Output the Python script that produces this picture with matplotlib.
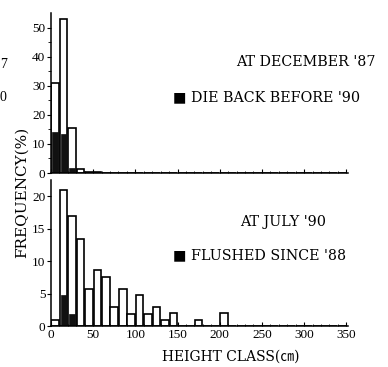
import matplotlib
matplotlib.use('Agg')
import matplotlib.pyplot as plt
import numpy as np

# height classes (cm), 10 cm wide, left edges
classes = np.arange(0, 350, 10)

# December '87: all plants and those that died back before '90 (%)
dec87_all = [31, 53, 15.5, 1.5, 0.5, 0.3, 0, 0, 0, 0, 0, 0, 0, 0, 0, 0, 0, 0,
             0, 0, 0, 0, 0, 0, 0, 0, 0, 0, 0, 0, 0, 0, 0, 0, 0]
dec87_dieback = [14, 13.4, 1.8, 0, 0, 0, 0, 0, 0, 0, 0, 0, 0, 0, 0, 0, 0, 0,
                 0, 0, 0, 0, 0, 0, 0, 0, 0, 0, 0, 0, 0, 0, 0, 0, 0]

# July '90: all plants and those flushed since '88 (%)
jul90_all = [0.9, 21, 17, 13.4, 5.7, 8.6, 7.6, 2.9, 5.7, 1.9, 4.7, 1.9, 2.9, 0.9,
             2.0, 0, 0, 0.9, 0, 0, 2.0, 0, 0, 0, 0, 0, 0, 0, 0, 0, 0, 0, 0, 0, 0]
jul90_flushed = [0, 4.7, 1.9, 0, 0, 0, 0, 0, 0, 0, 0, 0, 0, 0, 0, 0, 0, 0,
                 0, 0, 0, 0, 0, 0, 0, 0, 0, 0, 0, 0, 0, 0, 0, 0, 0]

plt.rcParams['font.family'] = ['Liberation Serif', 'DejaVu Serif']
serif = ['DejaVu Serif', 'DejaVu Sans']

fig = plt.figure(figsize=(3.88, 3.67), dpi=100)
ax1 = fig.add_axes([0.1314, 0.5286, 0.7655, 0.436])
ax2 = fig.add_axes([0.1314, 0.1117, 0.7655, 0.398])


def draw(ax, allv, sub, ymax, ystep, yminor):
    ax.bar(classes + 0.5, allv, width=9, align='edge', color='white',
           edgecolor='black', linewidth=1.2)
    ax.bar(classes + 1.5, sub, width=7, align='edge', color='#111111',
           edgecolor='#111111', linewidth=0.5)
    ax.set_xlim(0, 352)
    ax.set_ylim(0, ymax)
    ax.spines['top'].set_visible(False)
    ax.spines['right'].set_visible(False)
    ax.spines['left'].set_linewidth(1.1)
    ax.spines['bottom'].set_linewidth(1.1)
    ax.set_yticks(np.arange(0, ymax, ystep))
    ax.set_yticks(np.arange(0, ymax, yminor), minor=True)
    ax.set_xticks(np.arange(0, 351, 50))
    ax.set_xticks(np.arange(0, 351, 10), minor=True)
    ax.tick_params(axis='y', which='major', direction='out', length=3,
                   width=0.8, labelsize=9.5, pad=1)
    ax.tick_params(axis='y', which='minor', direction='out', length=2, width=0.6)
    ax.tick_params(axis='x', which='major', direction='in', length=3,
                   width=0.8, labelsize=9.5, pad=2)
    ax.tick_params(axis='x', which='minor', direction='in', length=1.5, width=0.6)


draw(ax1, dec87_all, dec87_dieback, 55, 10, 5)
draw(ax2, jul90_all, jul90_flushed, 22.5, 5, 5)
ax1.tick_params(axis='x', labelbottom=False)

ax1.text(0.858, 0.694, "AT DECEMBER '87", transform=ax1.transAxes,
         ha='center', va='center', fontsize=10.3, family=serif)
ax1.text(0.41, 0.475, "\u25a0 DIE BACK BEFORE '90", transform=ax1.transAxes,
         ha='left', va='center', fontsize=10.3, family=serif)
ax2.text(0.78, 0.712, "AT JULY '90", transform=ax2.transAxes,
         ha='center', va='center', fontsize=10.3, family=serif)
ax2.text(0.41, 0.486, "\u25a0 FLUSHED SINCE '88", transform=ax2.transAxes,
         ha='left', va='center', fontsize=10.3, family=serif)

ax2.set_xlabel('HEIGHT CLASS(㎝)', fontsize=10,
               family=['DejaVu Serif', 'Noto Sans CJK JP'])
ax2.xaxis.set_label_coords(0.606, -0.165)
fig.text(0.055, 0.477, 'FREQUENCY(%)', rotation=90, ha='center', va='center',
         fontsize=11, family=serif)

# edge fragments of the neighbouring panel
fig.text(0.0, 0.823, '7', fontsize=10, ha='left', va='center')
fig.text(0.0, 0.735, '0', fontsize=10, ha='left', va='center')

fig.savefig('out.png', dpi=100)
